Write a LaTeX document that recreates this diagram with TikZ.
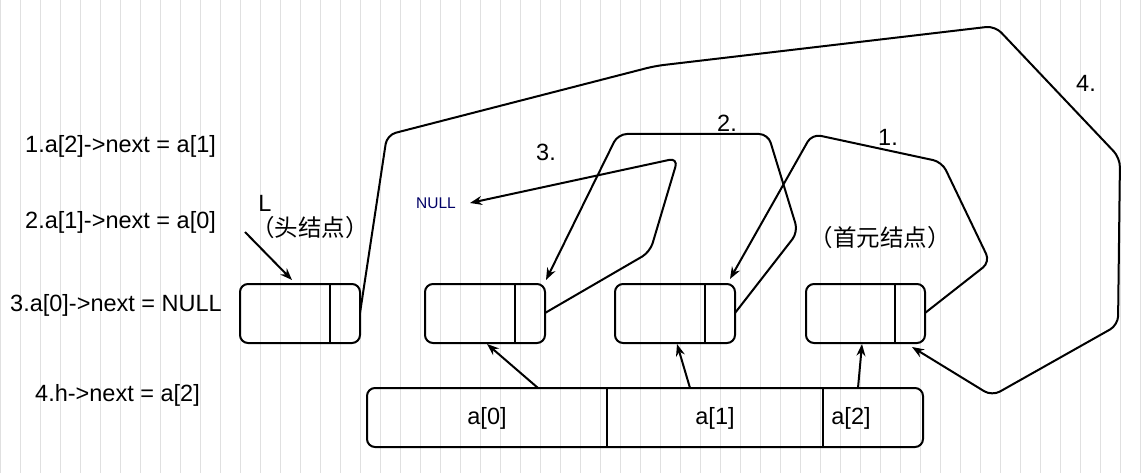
\documentclass[tikz,border=0pt]{standalone}
\usepackage{fontspec}
\usetikzlibrary{arrows.meta}
\setmainfont{Liberation Sans}
\newfontfamily\cjk{Noto Sans CJK SC}
\begin{document}
\begin{tikzpicture}[x=1pt,y=-1pt,
  box/.style={draw,line width=2pt,rounded corners=8pt},
  ln/.style={line width=2pt,rounded corners=9pt},
  arr/.style={line width=2pt,-{Stealth[length=12pt,width=9pt]}},
  lbl/.style={font=\fontsize{23.5}{26}\selectfont,anchor=west,inner sep=0},
  txt/.style={font=\fontsize{23.5}{26}\selectfont,inner sep=0}]
\useasboundingbox (0,0) rectangle (1145,473);
\fill[white] (0,0) rectangle (1145,473);
\draw[black!12,line width=0.8pt] (0,0) grid[step=20] (1145,473);
% labels
\node[lbl] (l1) at (25,146) {1.a[2]->next = a[1]};
\node[lbl] (l2) at (25,222) {2.a[1]->next = a[0]};
\node[lbl] (l3) at (10,305) {3.a[0]->next = NULL};
\node[lbl] (l4) at (35,395) {4.h->next = a[2]};
\node[txt] (L) at (265,203) {L};
\node[txt] (hd) at (310,228) {\cjk （头结点）};
\node[txt] (sy) at (880,238) {\cjk （首元结点）};
\node[font=\fontsize{15.5}{17}\selectfont,text=blue!40!black,inner sep=0] (null) at (436,203) {NULL};
\node[txt] (n3) at (546,152) {3.};
\node[txt] (n2) at (727,123) {2.};
\node[txt] (n1) at (888,137) {1.};
\node[txt] (n4) at (1086,83) {4.};
% list nodes
\draw[box] (240,284) rectangle (360,343); \draw[line width=2pt] (330,284)--(330,343);
\draw[box] (425,284) rectangle (545,343); \draw[line width=2pt] (515,284)--(515,343);
\draw[box] (615,284) rectangle (735,343); \draw[line width=2pt] (705,284)--(705,343);
\draw[box] (806,284) rectangle (925,343); \draw[line width=2pt] (895,284)--(895,343);
\coordinate (h) at (360,313); \coordinate (p0) at (545,313);
\coordinate (p1) at (735,313); \coordinate (p2) at (925,313);
% array
\draw[box] (367,388) rectangle (923,447);
\draw[line width=2pt] (607,388)--(607,447) (823,388)--(823,447);
\node[txt] (a0) at (487,418) {a[0]};
\node[txt] (a1) at (715,418) {a[1]};
\node[txt] (a2) at (851,418) {a[2]};
% pointers
\draw[arr] (245,232) -- (292,280);
\draw[arr] (538,388) -- (487,344);
\draw[arr] (690,388) -- (677,344);
\draw[arr] (858,388) -- (862,344);
\draw[ln,-{Stealth[length=12pt,width=9pt]}] (h) -- (387,135) -- (655,66) -- (995,26) -- (1120,158) -- (1118,325) -- (992,396) -- (912,347);
\draw[ln,-{Stealth[length=12pt,width=9pt]}] (p2) -- (990,262) -- (942,162) -- (812,134) -- (730,279);
\draw[ln,-{Stealth[length=12pt,width=9pt]}] (p1) -- (798,232) -- (768,134) -- (618,134) -- (546,280);
\draw[ln,-{Stealth[length=12pt,width=9pt]}] (p0) -- (650,252) -- (678,158) -- (470,203);
\end{tikzpicture}
\end{document}
